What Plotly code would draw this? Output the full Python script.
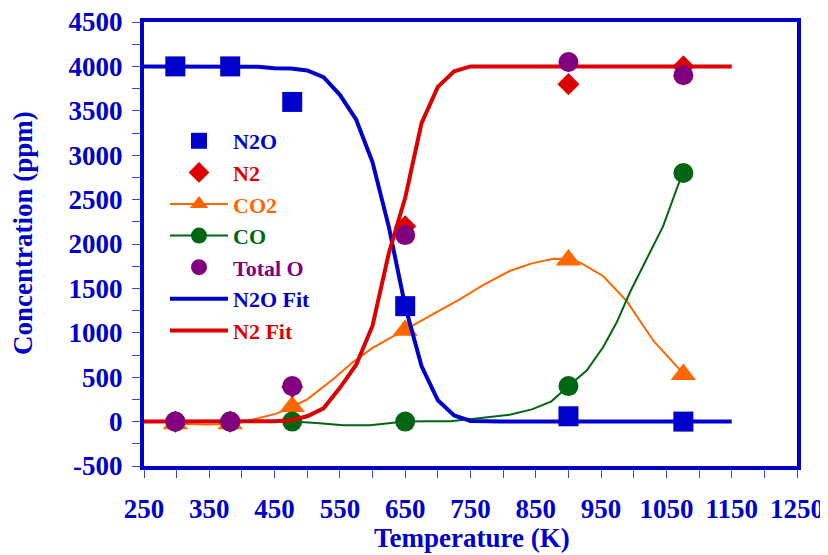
import plotly.graph_objects as go

# Measured data points
T_pts = [298, 382, 477, 650, 900, 1076]
n2o = [4000, 4000, 3600, 1300, 60, 0]
n2 = [0, 0, 390, 2200, 3800, 4000]
co2 = [-25, -25, 170, 1030, 1820, 530]
co = [0, 0, 0, 0, 400, 2800]
total_o = [0, 0, 400, 2100, 4050, 3900]

# Smoothed CO2 curve
co2_T = [298, 346, 390, 422, 453, 478, 500, 540, 570, 600, 642, 670, 700, 734, 770, 810, 844, 877, 900, 918, 953, 989, 1030, 1076]
co2_V = [-25, -34, -25, 34, 90, 170, 250, 480, 670, 830, 1000, 1120, 1240, 1380, 1540, 1696, 1782, 1835, 1830, 1790, 1640, 1360, 911, 540]

# Smoothed CO curve
co_T = [298, 382, 433, 477, 514, 555, 596, 627, 650, 688, 719, 759, 810, 844, 874, 900, 928, 953, 974, 994, 1020, 1045, 1071, 1076]
co_V = [0, 0, 0, 0, -15, -41, -41, -22, 0, 3, 3, 34, 78, 138, 228, 400, 575, 837, 1118, 1454, 1827, 2201, 2724, 2800]

# Fit curves
fit_T = [250, 275, 300, 325, 350, 375, 400, 425, 450, 475, 500, 525, 550, 575, 600, 625, 650, 675, 700, 725, 750, 775,
         800, 850, 900, 950, 1000, 1050, 1100, 1150]
n2o_fit = [4000, 4000, 4000, 4000, 4000, 4000, 4000, 3995, 3978, 3975, 3955, 3880, 3680, 3400, 2920, 2190, 1300, 625,
           240, 70, 8, 0, 0, 0, 0, 0, 0, 0, 0, 0]
n2_fit = [0, 0, 0, 0, 0, 0, 0, 0, 5, 15, 60, 150, 380, 640, 1080, 1900, 2520, 3360, 3770, 3945, 4000, 4000,
          4000, 4000, 4000, 4000, 4000, 4000, 4000, 4000]

x_ticks = [250, 350, 450, 550, 650, 750, 850, 950, 1050, 1150, 1250]
x_minor = [300, 400, 500, 600, 700, 800, 900, 1000, 1100, 1200]
y_ticks = [-500, 0, 500, 1000, 1500, 2000, 2500, 3000, 3500, 4000, 4500]
y_minor = [-250, 250, 750, 1250, 1750, 2250, 2750, 3250, 3750, 4250]

BLUE = "#0000CC"
RED = "#DD0000"
ORANGE = "#FF6600"
GREEN = "#006614"
PURPLE = "#800080"
TICKC = "#4444DD"

def nm(text, color):
    return f'<span style="color:{color}">{text}</span>'

fig = go.Figure()
fig.add_trace(go.Scatter(x=co2_T, y=co2_V, mode="lines", line=dict(color=ORANGE, width=2),
                         showlegend=False, hoverinfo="skip"))
fig.add_trace(go.Scatter(x=T_pts, y=co2, mode="markers", showlegend=False,
                         marker=dict(symbol="triangle-up", size=22, color=ORANGE)))
fig.add_trace(go.Scatter(x=co_T, y=co_V, mode="lines", line=dict(color=GREEN, width=2),
                         showlegend=False, hoverinfo="skip"))
fig.add_trace(go.Scatter(x=T_pts, y=co, mode="markers", showlegend=False,
                         marker=dict(symbol="circle", size=20, color=GREEN)))
fig.add_trace(go.Scatter(x=fit_T, y=n2o_fit, mode="lines", name=nm("N2O Fit", BLUE), legendrank=6,
                         line=dict(color=BLUE, width=4)))
fig.add_trace(go.Scatter(x=fit_T, y=n2_fit, mode="lines", name=nm("N2 Fit", RED), legendrank=7,
                         line=dict(color=RED, width=4)))
fig.add_trace(go.Scatter(x=T_pts, y=n2o, mode="markers", name=nm("N2O", BLUE), legendrank=1,
                         marker=dict(symbol="square", size=20, color=BLUE)))
fig.add_trace(go.Scatter(x=T_pts, y=n2, mode="markers", name=nm("N2", RED), legendrank=2,
                         marker=dict(symbol="diamond", size=17, color=RED)))
fig.add_trace(go.Scatter(x=T_pts, y=total_o, mode="markers", name=nm("Total O", PURPLE), legendrank=5,
                         marker=dict(symbol="circle", size=20, color=PURPLE)))
# legend samples (line + marker) for CO2 and CO
fig.add_trace(go.Scatter(x=[None], y=[None], mode="lines+markers", name=nm("CO2", ORANGE), legendrank=3,
                         line=dict(color=ORANGE, width=2),
                         marker=dict(symbol="triangle-up", size=20, color=ORANGE)))
fig.add_trace(go.Scatter(x=[None], y=[None], mode="lines+markers", name=nm("CO", GREEN), legendrank=4,
                         line=dict(color=GREEN, width=2),
                         marker=dict(symbol="circle", size=20, color=GREEN)))

axis_font = dict(family="Liberation Serif", size=27, color=BLUE, weight="bold")
OFF = 8  # page body margin offset
W, H = 828, 555
L, T = 144 - OFF, 22 - OFF
R = W - (797 - OFF)
B = H - (466 - OFF)
pw, ph = W - L - R, H - T - B

def px(xp):
    return (xp - OFF - L) / pw

def py(yp):
    return (H - B - (yp - OFF)) / ph

fig.update_layout(
    width=W, height=H,
    margin=dict(l=L, r=R, t=T, b=B),
    paper_bgcolor="white", plot_bgcolor="white",
    font=dict(family="Liberation Serif", size=22, color=BLUE, weight="bold"),
    showlegend=True,
    legend=dict(x=px(165), y=py(120), xanchor="left", yanchor="top", bgcolor="rgba(0,0,0,0)",
                font=dict(family="Liberation Serif", size=22, weight="bold"), itemwidth=58),
    xaxis=dict(range=[250, 1250], tickvals=x_ticks, ticktext=[str(v) for v in x_ticks], automargin=False,
               showgrid=False, zeroline=False, showline=True, linecolor=BLUE, linewidth=4, mirror=True,
               ticks="outside", ticklen=8, tickcolor=TICKC, tickwidth=1, ticklabelstandoff=8,
               ticklabeloverflow="allow",
               minor=dict(tickvals=x_minor, ticks="outside", ticklen=8, tickcolor=TICKC, tickwidth=1),
               tickfont=axis_font),
    yaxis=dict(range=[-500, 4500], tickvals=y_ticks, ticktext=[str(v) for v in y_ticks], automargin=False,
               showgrid=False, zeroline=False, showline=True, linecolor=BLUE, linewidth=4, mirror=True,
               ticks="outside", ticklen=8, tickcolor=TICKC, tickwidth=1, ticklabelstandoff=4,
               ticklabeloverflow="allow",
               minor=dict(tickvals=y_minor, ticks="outside", ticklen=8, tickcolor=TICKC, tickwidth=1),
               tickfont=axis_font),
    annotations=[
        dict(text="Temperature (K)", xref="paper", yref="paper", x=px(472), y=py(538),
             xanchor="center", yanchor="middle", showarrow=False, font=axis_font),
        dict(text="Concentration (ppm)", xref="paper", yref="paper", x=px(23), y=py(233),
             xanchor="center", yanchor="middle", textangle=-90, showarrow=False, font=axis_font),
    ],
)

fig.write_html("out.html")
